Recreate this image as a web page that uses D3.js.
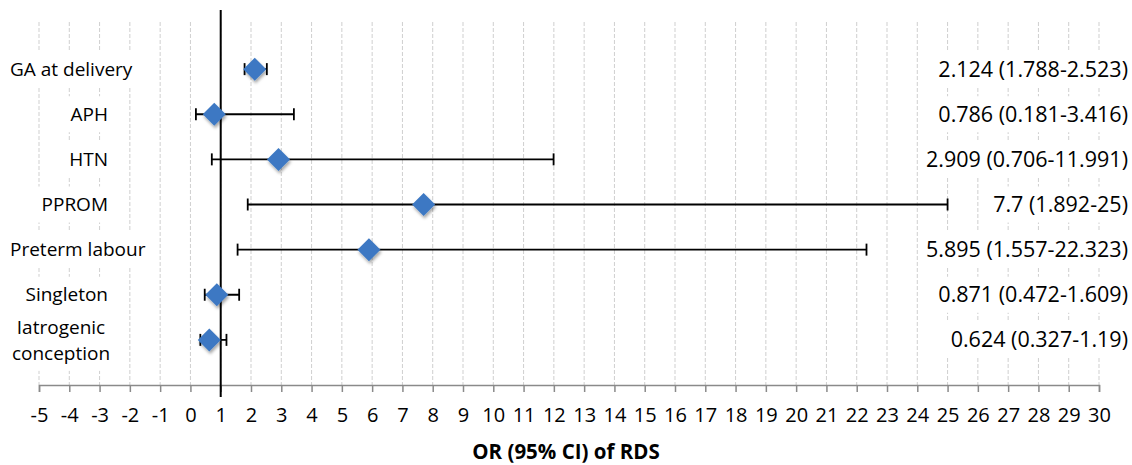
<!DOCTYPE html>
<html>
<head>
<meta charset="utf-8">
<script src="https://cdn.jsdelivr.net/npm/d3@7"></script>
<style>
  html, body { margin: 0; padding: 0; background: #fff; }
  svg { display: block; font-family: "Open Sans", "Noto Sans", sans-serif; }
</style>
</head>
<body>
<svg id="chart" width="1132" height="465"></svg>
<script>
// ---- Data ----
const categories = ["GA at delivery", "APH", "HTN", "PPROM", "Preterm labour", "Singleton", "Iatrogenic conception"];
const oddsRatio = [2.124, 0.786, 2.909, 7.7, 5.895, 0.871, 0.624];
const ciLower   = [1.788, 0.181, 0.706, 1.892, 1.557, 0.472, 0.327];
const ciUpper   = [2.523, 3.416, 11.991, 25, 22.323, 1.609, 1.19];
const xTicks = d3.range(-5, 31, 1);
const referenceValue = 1;
const axisTitle = "OR (95% CI) of RDS";

// ---- Layout ----
const svg = d3.select("#chart");

const x = d3.scaleLinear().domain([-5, 30]).range([39, 1099]);
const y = d3.scaleLinear().domain([0, categories.length + 1]).range([24, 385]);
const axisY = 385;

const rows = categories.map((c, i) => ({
  cat: c, or: oddsRatio[i], lo: ciLower[i], hi: ciUpper[i], pos: i + 1
}));

// drop shadow for diamonds
const defs = svg.append("defs");
const f = defs.append("filter").attr("id", "shadow").attr("x", "-50%").attr("y", "-50%").attr("width", "200%").attr("height", "200%");
f.append("feDropShadow").attr("dx", 1).attr("dy", 2.5).attr("stdDeviation", 1.6)
  .attr("flood-color", "#000").attr("flood-opacity", 0.35);

// ---- Gridlines ----
svg.append("g").selectAll("line").data(xTicks).join("line")
  .attr("x1", d => x(d)).attr("x2", d => x(d))
  .attr("y1", 22).attr("y2", axisY)
  .attr("stroke", "#cfcfcf").attr("stroke-width", 1)
  .attr("stroke-dasharray", "4,2");

// ---- Axis ----
const axis = d3.axisBottom(x).tickValues(xTicks).tickFormat(d => String(d))
  .tickSize(7).tickPadding(16);
const gAxis = svg.append("g").attr("transform", `translate(0,${axisY})`).call(axis);
gAxis.select(".domain").attr("stroke", "#8a8a8a").attr("stroke-width", 1.5);
gAxis.selectAll(".tick line").attr("stroke", "#8a8a8a").attr("stroke-width", 1.5);
gAxis.selectAll(".tick text").attr("fill", "#000")
  .style("font-size", "20px").style("font-family", "'Open Sans', sans-serif");

// ---- Left category labels (with white boxes) ----
const leftRight = 108, leftMin = 10;
const gLeft = svg.append("g");
rows.forEach(r => {
  const g = gLeft.append("g");
  const rect = g.append("rect").attr("fill", "#fff");
  const words = r.cat === "Iatrogenic conception" ? ["Iatrogenic", "conception"] : [r.cat];
  const lineH = 26;
  const texts = words.map((w, k) => g.append("text")
    .attr("y", y(r.pos) + (k - (words.length - 1) / 2) * lineH)
    .attr("dy", "0.35em")
    .style("font-size", "19px")
    .attr("fill", "#000")
    .text(w));
  let minX = Infinity, maxX = -Infinity;
  texts.forEach(t => {
    const wd = t.node().getComputedTextLength();
    let x0 = leftRight - wd;
    if (x0 < leftMin) x0 = leftMin;
    if (words.length > 1) {
      x0 = (leftMin + leftRight) / 2 - wd / 2 + 2;
    }
    t.attr("x", x0);
    minX = Math.min(minX, x0); maxX = Math.max(maxX, x0 + wd);
  });
  const h = words.length > 1 ? 62 : 36;
  rect.attr("x", minX - 4).attr("width", maxX - minX + 8)
    .attr("y", y(r.pos) - h / 2).attr("height", h);
});

// ---- Right value labels ----
const gRight = svg.append("g");
rows.forEach(r => {
  const g = gRight.append("g");
  const rect = g.append("rect").attr("fill", "#fff");
  const t = g.append("text")
    .attr("x", 1128).attr("y", y(r.pos)).attr("dy", "0.35em")
    .attr("text-anchor", "end")
    .style("font-size", "21.5px").attr("fill", "#000")
    .text(`${r.or} (${r.lo}-${r.hi})`);
  const wd = t.node().getComputedTextLength();
  rect.attr("x", 1128 - wd - 4).attr("width", wd + 8)
    .attr("y", y(r.pos) - 18).attr("height", 36);
});

// ---- Reference line ----
svg.append("line")
  .attr("x1", x(referenceValue)).attr("x2", x(referenceValue))
  .attr("y1", 10).attr("y2", 397)
  .attr("stroke", "#000").attr("stroke-width", 2);

// ---- Error bars ----
const capH = 6;
const gErr = svg.append("g").attr("stroke", "#000").attr("stroke-width", 1.8);
gErr.selectAll("line.ci").data(rows).join("line").attr("class", "ci")
  .attr("x1", d => x(d.lo)).attr("x2", d => x(d.hi))
  .attr("y1", d => y(d.pos)).attr("y2", d => y(d.pos));
gErr.selectAll("line.capl").data(rows).join("line").attr("class", "capl")
  .attr("x1", d => x(d.lo)).attr("x2", d => x(d.lo))
  .attr("y1", d => y(d.pos) - capH).attr("y2", d => y(d.pos) + capH);
gErr.selectAll("line.caph").data(rows).join("line").attr("class", "caph")
  .attr("x1", d => x(d.hi)).attr("x2", d => x(d.hi))
  .attr("y1", d => y(d.pos) - capH).attr("y2", d => y(d.pos) + capH);

// ---- Diamonds ----
const s = 11.5;
svg.append("g").selectAll("path").data(rows).join("path")
  .attr("d", d => {
    const cx = x(d.or), cy = y(d.pos);
    return `M${cx},${cy - s}L${cx + s},${cy}L${cx},${cy + s}L${cx - s},${cy}Z`;
  })
  .attr("fill", "#3d78c3")
  .attr("filter", "url(#shadow)");

// ---- Axis title ----
svg.append("text")
  .attr("x", 566).attr("y", 452).attr("dy", "0.35em")
  .attr("text-anchor", "middle")
  .style("font-size", "20.5px").style("font-weight", "bold")
  .attr("fill", "#000")
  .text(axisTitle);
</script>
</body>
</html>
